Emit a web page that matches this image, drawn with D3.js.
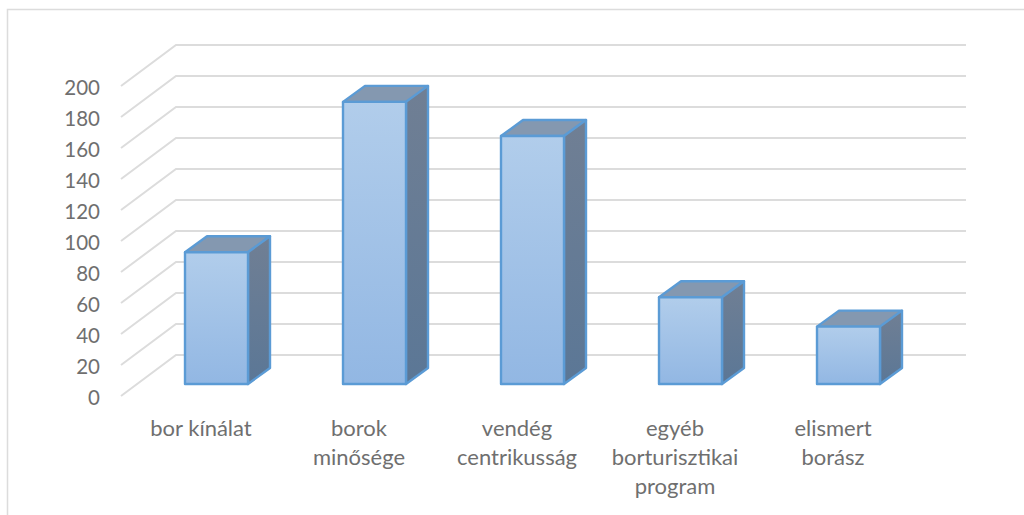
<!DOCTYPE html>
<html><head><meta charset="utf-8">
<script src="https://cdn.jsdelivr.net/npm/d3@7/dist/d3.min.js"></script>
<style>html,body{margin:0;padding:0;background:#fff}svg{display:block}</style></head>
<body><svg id="c" width="1024" height="515"></svg>
<script>
const categories = [["bor kínálat"],["borok","minősége"],["vendég","centrikusság"],["egyéb","borturisztikai","program"],["elismert","borász"]];
const values = [85,182,160,56,37];
const ticks = [0,20,40,60,80,100,120,140,160,180,200];

const svg = d3.select("#c");
const font = "Lato, 'Open Sans', sans-serif";
const textColor = "#6f6f6f";
const defs = svg.append("defs");
const grad = defs.append("linearGradient").attr("id","front").attr("x1",0).attr("y1",0).attr("x2",0).attr("y2",1);
grad.append("stop").attr("offset","0%").attr("stop-color","#b1cdeb");
grad.append("stop").attr("offset","100%").attr("stop-color","#92b7e3");
const gradS = defs.append("linearGradient").attr("id","side").attr("x1",0).attr("y1",0).attr("x2",0).attr("y2",1);
gradS.append("stop").attr("offset","0%").attr("stop-color","#707f94");
gradS.append("stop").attr("offset","100%").attr("stop-color","#5b7796");

// frame
svg.append("path").attr("d","M7.5,515V9.5H1024").attr("fill","none").attr("stroke","#dcdcdc").attr("stroke-width",1.5);

const y = d3.scaleLinear().domain([0,200]).range([396,86]);
const depth = {x:55,y:-41};
const wallLeft = 121, wallRight = 966;
const g = svg.append("g").attr("stroke","#dcdcdc").attr("stroke-width",2).attr("fill","none");
ticks.forEach(t=>{
  const p = d3.path();
  p.moveTo(wallLeft,y(t)); p.lineTo(wallLeft+depth.x,y(t)+depth.y);
  p.lineTo(wallRight,y(t)+depth.y);
  g.append("path").attr("d",p.toString());
});

const x = d3.scaleBand().domain(d3.range(values.length)).range([137.5,927.5]).paddingInner(0.6013).paddingOuter(0.30065);
const barW = x.bandwidth(), dx = 22, dy = -16;
const baseShift = 12, labelShift = -15.5;
const stroke = "#5b9bd5";
values.forEach((v,i)=>{
  const x0 = x(i), x1 = x0+barW, yb = y(0)-baseShift, yt = y(v)-baseShift;
  const b = svg.append("g").attr("stroke",stroke).attr("stroke-width",2.4).attr("stroke-linejoin","round");
  b.append("path").attr("d",`M${x0},${yt}L${x0+dx},${yt+dy}L${x1+dx},${yt+dy}L${x1},${yt}Z`).attr("fill","#8498b0");
  b.append("path").attr("d",`M${x1},${yt}L${x1+dx},${yt+dy}L${x1+dx},${yb+dy}L${x1},${yb}Z`).attr("fill","url(#side)");
  b.append("rect").attr("x",x0).attr("y",yt).attr("width",barW).attr("height",yb-yt).attr("fill","url(#front)");
});

ticks.forEach(t=>{
  svg.append("text").attr("x",100).attr("y",y(t)+8.5).attr("text-anchor","end")
    .attr("font-family",font).attr("font-size",20.5).attr("fill",textColor).text(t);
});
categories.forEach((lines,i)=>{
  lines.forEach((s,j)=>{
    svg.append("text").attr("x",x(i)+barW/2+labelShift).attr("y",436+j*29).attr("text-anchor","middle")
      .attr("font-family",font).attr("font-size",22).attr("fill",textColor).text(s);
  });
});
</script></body></html>
